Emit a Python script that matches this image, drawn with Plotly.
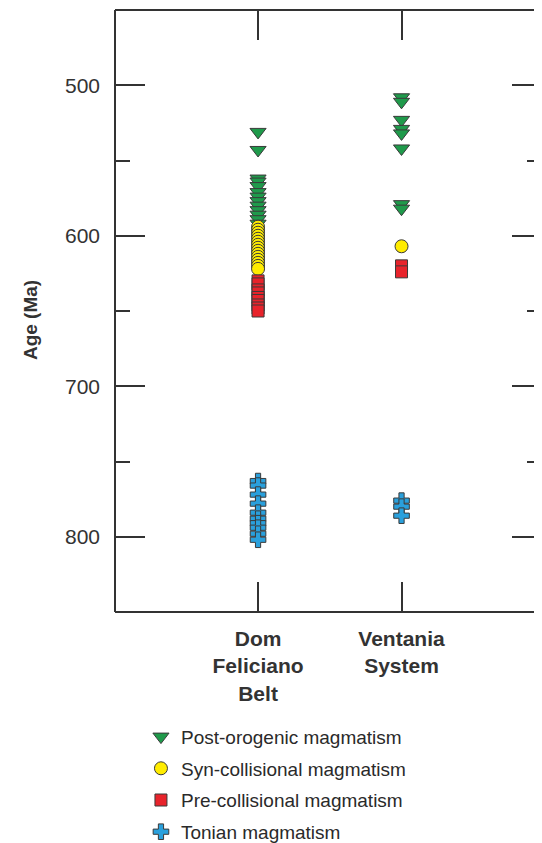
import plotly.graph_objects as go

# ---- data ----
categories = ["Dom<br>Feliciano<br>Belt", "Ventania<br>System"]
series_names = ["Post-orogenic magmatism", "Syn-collisional magmatism",
                "Pre-collisional magmatism", "Tonian magmatism"]

post_dfb = [531, 543, 562, 564, 567, 571, 574, 577, 580, 583, 586, 589, 592]
syn_dfb = [594, 596, 598, 600, 602, 604, 606, 608, 610, 612, 614, 616, 618, 620, 622]
pre_dfb = [630, 632, 636, 638, 641, 643, 646, 648, 650]
ton_dfb = [763, 766, 772, 778, 784, 788, 791, 794, 798, 802]

post_vs = [508, 511, 523, 529, 532, 542, 579, 582]
syn_vs = [607]
pre_vs = [620, 624]
ton_vs = [776, 780, 786]

y_ticks = [500, 600, 700, 800]

# ---- styles ----
styles = [
    dict(symbol="triangle-down", color="#1f9a4b", size=14),
    dict(symbol="circle", color="#ffec00", size=13),
    dict(symbol="square", color="#e8232b", size=12),
    dict(symbol="cross", color="#2aa0dc", size=13),
]
series = [(post_dfb, post_vs), (syn_dfb, syn_vs), (pre_dfb, pre_vs), (ton_dfb, ton_vs)]

fig = go.Figure()
for name, (a, b), st in zip(series_names, series, styles):
    xs = [1] * len(a) + [2] * len(b)
    ys = a + b
    fig.add_trace(go.Scatter(
        x=xs, y=ys, mode="markers", name=name, legendgroup=name,
        marker=dict(symbol=st["symbol"], color=st["color"], size=st["size"],
                    line=dict(color="#3a3a3a", width=1)),
    ))

axis_col = "#333333"
# page body has an 8px margin, so the figure is 8px smaller than the window
fig.update_layout(
    width=534, height=835,
    margin=dict(l=107, r=0, t=2, b=231, autoexpand=False),
    paper_bgcolor="white", plot_bgcolor="white",
    font=dict(family="Liberation Sans, Arial, sans-serif", color="#333333"),
    showlegend=True,
    legend=dict(
        xref="container", yref="container", x=0.249, y=0.150,
        xanchor="left", yanchor="top",
        font=dict(size=19, color="#2a2a2a"),
        tracegroupgap=4, itemsizing="trace",
        bgcolor="rgba(0,0,0,0)",
    ),
    xaxis=dict(
        range=[0.003, 2.979], tickvals=[1, 2], ticktext=categories,
        tickangle=0, automargin=False, ticklabelstandoff=12,
        ticks="inside", ticklen=30, tickwidth=2, tickcolor=axis_col,
        mirror="ticks", showline=False, showgrid=False, zeroline=False,
        tickfont=dict(size=21, color="#333333", weight="bold",
                      family="Liberation Sans, Arial, sans-serif"),
    ),
    yaxis=dict(
        range=[850, 450], tickvals=y_ticks, automargin=False, ticklabelstandoff=14,
        ticks="inside", ticklen=30, tickwidth=2, tickcolor=axis_col,
        minor=dict(tickvals=[550, 650, 750], ticks="inside", ticklen=15,
                   tickwidth=2, tickcolor=axis_col),
        mirror="ticks", showline=False, showgrid=False, zeroline=False,
        tickfont=dict(size=21, color="#333333"),
    ),
    annotations=[dict(
        text="Age (Ma)", textangle=-90, xref="paper", yref="paper",
        x=-0.199, y=0.485, xanchor="center", yanchor="middle", showarrow=False,
        font=dict(size=19, color="#333333", weight="bold"),
    )],
)

# frame lines (left, top, bottom)
for x0, y0, x1, y1 in [(0, 0, 0, 1), (0, 1, 1.01, 1), (0, 0, 1.01, 0)]:
    fig.add_shape(type="line", xref="paper", yref="paper", x0=x0, y0=y0, x1=x1, y1=y1,
                  line=dict(color=axis_col, width=2))

fig.write_html("out.html")
